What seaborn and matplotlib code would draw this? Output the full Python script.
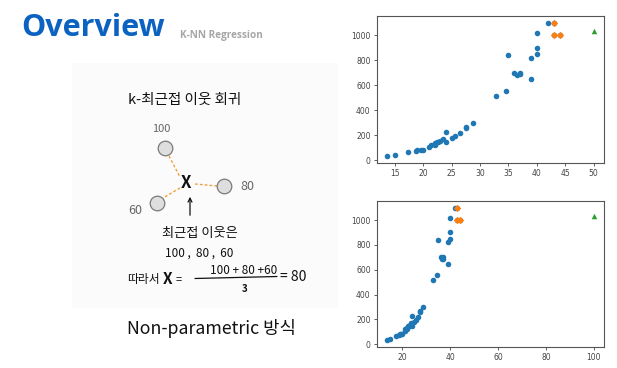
import matplotlib
matplotlib.use("Agg")
import matplotlib.pyplot as plt
from matplotlib.patches import Rectangle, FancyArrowPatch
from matplotlib.lines import Line2D
import seaborn as sns

sns.set_style("white")
plt.rcParams['font.family'] = ['Noto Sans CJK KR', 'DejaVu Sans']

# ---- data ----
train_length = [13.7, 15.0, 17.4, 18.7, 19.0, 19.6, 20.0, 21.0, 21.3, 22.0, 22.0, 22.0,
                22.5, 22.7, 23.0, 23.5, 24.0, 24.0, 25.0, 25.6, 26.5, 27.5, 27.5, 28.7,
                32.8, 34.5, 35.0, 36.0, 36.5, 37.0, 37.0, 39.0, 39.0, 40.0, 40.0, 40.0,
                42.0, 43.0, 43.0, 44.0]
train_weight = [32, 40, 70, 78, 80, 85, 85, 110, 120, 120, 130, 135,
                150, 145, 155, 170, 225, 145, 180, 197, 218, 260, 265, 300,
                514, 556, 840, 700, 685, 700, 690, 820, 650, 850, 900, 1015,
                1100, 1100, 1000, 1000]
neighbor_length = [43.0, 43.0, 44.0]
neighbor_weight = [1100, 1000, 1000]
query_length_1 = [50]
query_length_2 = [100]
query_pred = [1033]

W, H = 617, 368
fig = plt.figure(figsize=(W / 100, H / 100), dpi=100)
fig.patch.set_facecolor("white")


def fx(x):
    return x / W


def fy(y):
    return 1 - y / H


def style_ax(ax, xticks):
    for s in ax.spines.values():
        s.set_visible(True)
        s.set_color("#555555")
        s.set_linewidth(0.8)
    ax.set_xticks(xticks)
    ax.set_yticks([0, 200, 400, 600, 800, 1000])
    ax.tick_params(axis="both", labelsize=5.5, colors="#444444", length=2.5, width=0.6,
                   pad=2, left=True, bottom=True)
    for lab in ax.get_xticklabels() + ax.get_yticklabels():
        lab.set_family("DejaVu Sans")
    ax.set_xlabel("")
    ax.set_ylabel("")


blue, orange, green = "#1f77b4", "#ff7f0e", "#2ca02c"

for (top, bottom, q, xt) in [(16, 163, query_length_1, [15, 20, 25, 30, 35, 40, 45, 50]),
                            (201, 347, query_length_2, [20, 40, 60, 80, 100])]:
    ax = fig.add_axes([fx(377), fy(bottom), (604 - 377) / W, (bottom - top) / H])
    sns.scatterplot(x=train_length, y=train_weight, ax=ax, color=blue, s=16,
                    linewidth=0, legend=False)
    sns.scatterplot(x=neighbor_length, y=neighbor_weight, ax=ax, color=orange, s=14,
                    marker="D", linewidth=0, legend=False)
    sns.scatterplot(x=q, y=query_pred, ax=ax, color=green, s=16, marker="^",
                    linewidth=0, legend=False)
    style_ax(ax, xt)

# ---- slide decorations ----
fig.text(fx(21), fy(36), "Overview", color="#0b62c0", fontsize=22, fontweight="bold",
         family=["Open Sans", "DejaVu Sans"], va="baseline", ha="left")
fig.text(fx(180), fy(38), "K-NN Regression", color="#a6a6a6", fontsize=7.2,
         fontweight="bold", family=["Open Sans", "DejaVu Sans"], va="baseline", ha="left")

fig.patches.append(Rectangle((fx(72), fy(308)), (338 - 72) / W, (308 - 63) / H,
                             transform=fig.transFigure, facecolor="#fbfbfb",
                             edgecolor="none", zorder=0))

hand = dict(family=["Noto Sans CJK KR", "DejaVu Sans"], color="#111111")
fig.text(fx(128), fy(100), "k-최근접 이웃 회귀", fontsize=10.5, va="center", ha="left", **hand)

for (x0, y0, x1, y1) in [(169, 156, 180, 177), (195, 184, 217, 186), (180, 188, 163, 198)]:
    fig.lines.append(Line2D([fx(x0), fx(x1)], [fy(y0), fy(y1)], transform=fig.transFigure,
                            color="#f0a040", linewidth=1.0, linestyle=(0, (2, 1.5))))

for cx, cy in [(165, 148), (224, 186), (157, 203)]:
    fig.lines.append(Line2D([fx(cx)], [fy(cy)], transform=fig.transFigure, marker="o",
                            markersize=10.5, markerfacecolor="#dedede",
                            markeredgecolor="#7a7a7a", markeredgewidth=0.9))

gray_num = dict(family=["Noto Sans CJK KR", "DejaVu Sans"], color="#666666",
                style="italic")
fig.text(fx(161), fy(129), "100", fontsize=8, ha="center", va="center", **gray_num)
fig.text(fx(247), fy(187), "80", fontsize=9, ha="center", va="center", **gray_num)
fig.text(fx(135), fy(210), "60", fontsize=9, ha="center", va="center", **gray_num)

fig.text(fx(186), fy(183), "X", fontsize=12, fontweight="bold", ha="center",
         va="center", **hand)

arr = FancyArrowPatch((fx(190), fy(218)), (fx(190), fy(194)), transform=fig.transFigure,
                      arrowstyle="->", mutation_scale=7, color="#111111", linewidth=0.9)
fig.patches.append(arr)

fig.text(fx(200), fy(233), "최근접 이웃은", fontsize=9.5, ha="center", va="center", **hand)
fig.text(fx(199), fy(253), "100 ,  80 ,  60", fontsize=8.5, ha="center", va="center",
         style="italic", **hand)
fig.text(fx(127), fy(279), "따라서", fontsize=8.5, ha="left", va="center", **hand)
fig.text(fx(163), fy(279), "X", fontsize=11, fontweight="bold", ha="left", va="center",
         **hand)
fig.text(fx(176), fy(279), "=", fontsize=8, ha="left", va="center", **hand)
fig.text(fx(244), fy(270), "100 + 80 +60", fontsize=8.5, ha="center", va="center", **hand)
fig.lines.append(Line2D([fx(195), fx(277)], [fy(278.5), fy(276.5)],
                        transform=fig.transFigure, color="#111111", linewidth=0.9))
fig.text(fx(245), fy(289), "3", fontsize=7, ha="center", va="center",
         fontweight="bold", **hand)
fig.text(fx(280), fy(277), "= 80", fontsize=10, ha="left", va="center", **hand)

fig.text(fx(127), fy(328), "Non-parametric 방식", fontsize=12.8, color="#111111",
         family=["Noto Sans CJK KR", "DejaVu Sans"], ha="left", va="center")

fig.savefig("out.png", dpi=100, facecolor="white")
